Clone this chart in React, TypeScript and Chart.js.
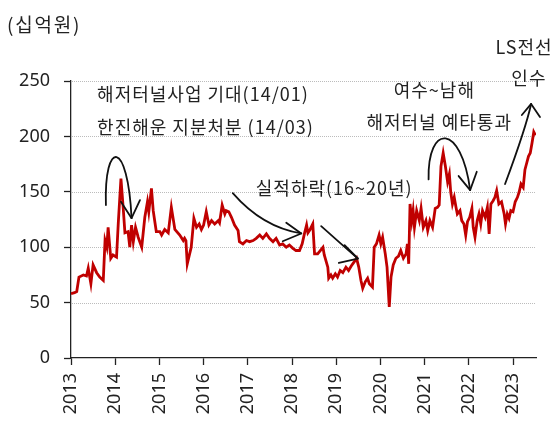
import React, { useEffect, useRef } from 'react';
import { Chart, registerables } from 'chart.js';

Chart.register(...registerables);

// decimal year of each observation
const dates = [
  2013.00, 2013.08, 2013.13, 2013.18, 2013.28, 2013.35, 2013.39, 2013.45, 2013.50, 2013.58,
  2013.65, 2013.73, 2013.77, 2013.81, 2013.84, 2013.90, 2013.95, 2014.03, 2014.07, 2014.13,
  2014.18, 2014.22, 2014.29, 2014.33, 2014.37, 2014.41, 2014.46, 2014.52, 2014.60, 2014.67,
  2014.73, 2014.76, 2014.82, 2014.86, 2014.90, 2014.93, 2015.01, 2015.05, 2015.12, 2015.20,
  2015.27, 2015.35, 2015.46, 2015.54, 2015.57, 2015.60, 2015.63, 2015.72, 2015.78, 2015.84,
  2015.90, 2015.95, 2016.00, 2016.06, 2016.12, 2016.18, 2016.25, 2016.33, 2016.36, 2016.42,
  2016.48, 2016.51, 2016.57, 2016.63, 2016.70, 2016.78, 2016.81, 2016.89, 2016.97, 2017.04,
  2017.12, 2017.19, 2017.27, 2017.34, 2017.42, 2017.49, 2017.57, 2017.64, 2017.72, 2017.79,
  2017.87, 2017.94, 2018.02, 2018.09, 2018.17, 2018.23, 2018.28, 2018.33, 2018.36, 2018.41,
  2018.47, 2018.51, 2018.58, 2018.64, 2018.70, 2018.73, 2018.81, 2018.83, 2018.88, 2018.92,
  2018.98, 2019.03, 2019.09, 2019.15, 2019.22, 2019.28, 2019.34, 2019.41, 2019.46, 2019.51,
  2019.56, 2019.60, 2019.66, 2019.71, 2019.75, 2019.82, 2019.86, 2019.91, 2019.97, 2020.01,
  2020.05, 2020.11, 2020.15, 2020.20, 2020.24, 2020.29, 2020.35, 2020.41, 2020.46, 2020.52,
  2020.58, 2020.61, 2020.64, 2020.67, 2020.71, 2020.74, 2020.77, 2020.82, 2020.88, 2020.92,
  2020.97, 2021.03, 2021.07, 2021.12, 2021.18, 2021.24, 2021.29, 2021.33, 2021.37, 2021.42,
  2021.47, 2021.52, 2021.56, 2021.59, 2021.63, 2021.67, 2021.71, 2021.74, 2021.80, 2021.84,
  2021.89, 2021.93, 2021.97, 2022.02, 2022.07, 2022.10, 2022.14, 2022.19, 2022.23, 2022.27,
  2022.31, 2022.37, 2022.42, 2022.46, 2022.50, 2022.55, 2022.59, 2022.63, 2022.68, 2022.74,
  2022.80, 2022.83, 2022.87, 2022.91, 2022.95, 2023.00, 2023.05, 2023.10, 2023.14, 2023.18,
  2023.23, 2023.27, 2023.31, 2023.35, 2023.39, 2023.43, 2023.47, 2023.51,
];

// market cap (십억원)
const values = [
  58, 59, 60, 73, 75, 74, 81, 67, 84, 77,
  73, 70, 106, 100, 118, 90, 93, 91, 122, 162,
  136, 113, 114, 100, 120, 105, 118, 109, 100, 127,
  141, 132, 153, 133, 122, 114, 114, 111, 116, 113,
  136, 116, 111, 106, 108, 106, 85, 100, 126, 118,
  121, 116, 120, 132, 120, 124, 121, 124, 122, 138,
  130, 133, 132, 127, 120, 115, 105, 103, 106, 105,
  106, 108, 111, 108, 112, 108, 105, 108, 102, 103,
  100, 102, 99, 97, 97, 103, 112, 120, 113, 116,
  121, 94, 94, 97, 100, 93, 82, 72, 75, 72,
  76, 73, 79, 77, 82, 79, 83, 87, 90, 82,
  70, 63, 69, 72, 67, 64, 100, 103, 111, 103,
  109, 94, 82, 46, 73, 84, 90, 92, 97, 90,
  94, 103, 85, 139, 124, 133, 118, 133, 124, 135,
  118, 124, 115, 124, 118, 135, 136, 138, 173, 185,
  173, 159, 166, 150, 139, 145, 136, 130, 133, 124,
  121, 111, 123, 127, 135, 118, 109, 124, 130, 121,
  133, 127, 136, 112, 139, 142, 145, 151, 139, 141,
  130, 121, 130, 126, 133, 132, 141, 145, 150, 157,
  154, 170, 176, 182, 185, 194, 204, 201,
];

const yearTicks = [2013, 2014, 2015, 2016, 2017, 2018, 2019, 2020, 2021, 2022, 2023];
const valueTicks = [0, 50, 100, 150, 200, 250];
const unitLabel = '(십억원)';

// annotation texts, anchored in data units [year, value]
const noteTexts = ['해저터널사업 기대(14/01)', '한진해운 지분처분 (14/03)', '실적하락(16~20년)', '여수~남해', '해저터널 예타통과', 'LS전선', '인수'];
const noteAnchors = [[2013.59, 238.3], [2013.59, 208.5], [2017.18, 153.3], [2021.22, 242.0], [2021.33, 213.0], [2023.25, 280.8], [2023.36, 252.8]];
const noteAligns = ['left', 'left', 'left', 'center', 'center', 'center', 'center'];

// arrow paths (start, [controls], tip) and head ends, in data units
const arrowPaths = [
  [[2013.79, 138.0], [2013.745, 197.7], [2014.287, 197.7], [2014.37, 126.2]],
  [[2016.66, 148.8], [2017.33, 118.1], [2018.21, 112.4]],
  [[2018.66, 119.0], [2019.09, 103.6], [2019.49, 89.8]],
  [[2021.09, 161.2], [2021.06, 212.1], [2021.83, 212.1], [2022.03, 151.5]],
  [[2022.82, 157.0], [2023.29, 207.6], [2023.41, 229.3]],
];
const arrowHeads = [
  [[2014.13, 141.0], [2014.56, 142.5]],
  [[2017.87, 122.0], [2017.79, 105.4]],
  [[2019.19, 101.8], [2019.06, 85.8]],
  [[2021.77, 164.2], [2022.18, 168.1]],
  [[2023.20, 219.3], [2023.61, 217.5]],
];

const TEXT = '#222222';
const KFONT = "'Noto Sans CJK KR', 'Noto Sans', sans-serif";
const NFONT = "'Noto Sans', sans-serif";

// dotted horizontal gridlines at the y ticks (drawn under the data)
const gridPlugin = {
  id: 'dottedGrid',
  beforeDatasetsDraw(chart: any) {
    const { ctx, chartArea } = chart;
    const ys = chart.scales.y;
    ctx.save();
    ctx.strokeStyle = '#bcbcbc';
    ctx.lineWidth = 1;
    ctx.setLineDash([1, 1]);
    valueTicks.forEach((v) => {
      if (v === 0) return;
      const y = Math.round(ys.getPixelForValue(v)) + 0.5;
      ctx.beginPath();
      ctx.moveTo(Math.round(chartArea.left) + 1, y);
      ctx.lineTo(Math.round(chartArea.right), y);
      ctx.stroke();
    });
    ctx.restore();
  },
};

const notesPlugin = {
  id: 'notes',
  afterDraw(chart: any) {
    const { ctx } = chart;
    const xs = chart.scales.x;
    const ys = chart.scales.y;
    const px = (p: number[]) => [xs.getPixelForValue(p[0]), ys.getPixelForValue(p[1])];
    ctx.save();
    ctx.fillStyle = TEXT;
    ctx.textBaseline = 'middle';
    ctx.textAlign = 'left';
    ctx.font = `19px ${KFONT}`;
    try { (ctx as any).letterSpacing = '1.8px'; } catch (e) {}
    ctx.fillText(unitLabel, 7, 25);
    ctx.font = `18px ${KFONT}`;
    try { (ctx as any).letterSpacing = '1px'; } catch (e) {}
    noteTexts.forEach((t, i) => {
      const [X, Y] = px(noteAnchors[i]);
      ctx.textAlign = noteAligns[i];
      ctx.fillText(t, X, Y);
    });
    try { (ctx as any).letterSpacing = '0px'; } catch (e) {}
    ctx.strokeStyle = '#111111';
    ctx.lineWidth = 1.8;
    ctx.lineCap = 'round';
    ctx.lineJoin = 'round';
    arrowPaths.forEach((path, i) => {
      const pts = path.map(px);
      ctx.beginPath();
      ctx.moveTo(pts[0][0], pts[0][1]);
      if (pts.length === 4) ctx.bezierCurveTo(pts[1][0], pts[1][1], pts[2][0], pts[2][1], pts[3][0], pts[3][1]);
      else if (pts.length === 3) ctx.quadraticCurveTo(pts[1][0], pts[1][1], pts[2][0], pts[2][1]);
      else ctx.lineTo(pts[1][0], pts[1][1]);
      ctx.stroke();
      const tip = pts[pts.length - 1];
      const [h1, h2] = arrowHeads[i].map(px);
      ctx.beginPath();
      ctx.moveTo(h1[0], h1[1]);
      ctx.lineTo(tip[0], tip[1]);
      ctx.lineTo(h2[0], h2[1]);
      ctx.stroke();
    });
    ctx.restore();
  },
};

export default function App() {
  const ref = useRef<HTMLCanvasElement>(null);
  useEffect(() => {
    const canvas = ref.current!;
    const chart = new Chart(canvas, {
      type: 'line',
      data: {
        datasets: [
          {
            data: dates.map((d, i) => ({ x: d, y: values[i] })),
            borderColor: '#C00000',
            borderWidth: 2.8,
            pointRadius: 0,
            tension: 0,
            fill: false,
          },
        ],
      },
      options: {
        responsive: false,
        animation: false,
        layout: { padding: { top: 81, right: 17, left: 0, bottom: 0 } },
        plugins: { legend: { display: false }, tooltip: { enabled: false }, title: { display: false } },
        scales: {
          x: {
            type: 'linear',
            min: 2013,
            max: 2023.52,
            afterBuildTicks: (s: any) => { s.ticks = yearTicks.map((v) => ({ value: v })); },
            afterFit: (s: any) => { s.height = 63; },
            ticks: {
              autoSkip: false,
              minRotation: 90,
              maxRotation: 90,
              padding: 8,
              color: TEXT,
              font: { family: NFONT, size: 18 },
              callback: (v: any) => String(v),
            },
            grid: { drawOnChartArea: false, drawTicks: true, tickLength: 7, tickColor: '#222', tickWidth: 1.3, color: '#222' },
            border: { display: true, color: '#222', width: 1.3 },
          },
          y: {
            min: 0,
            max: 250,
            afterBuildTicks: (s: any) => { s.ticks = valueTicks.map((v) => ({ value: v })); },
            afterFit: (s: any) => { s.width = 71; },
            ticks: { padding: 14, color: TEXT, font: { family: NFONT, size: 18 } },
            grid: {
              drawOnChartArea: false,
              drawTicks: true,
              tickLength: 7,
              tickColor: '#222',
              tickWidth: 1.3,
              color: '#222',
            },
            border: { display: true, color: '#222', width: 1.3 },
          },
        },
      },
      plugins: [gridPlugin, notesPlugin],
    } as any);
    return () => chart.destroy();
  }, []);
  return (
    <div style={{ position: 'absolute', left: 0, top: 0, width: 553, height: 421, background: '#fff' }}>
      <canvas ref={ref} width={553} height={421} style={{ display: 'block' }} />
    </div>
  );
}
